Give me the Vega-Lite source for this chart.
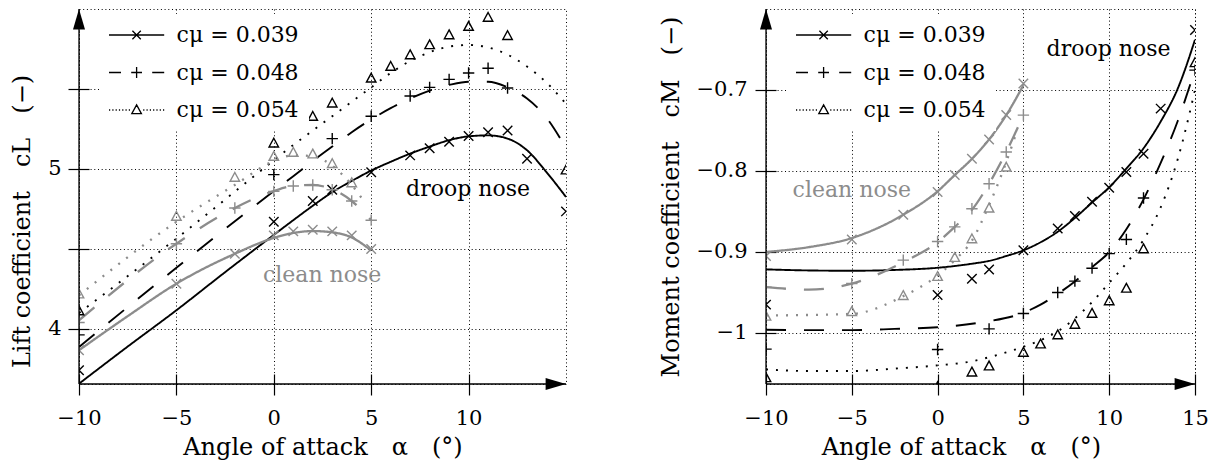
{
  "$schema": "https://vega.github.io/schema/vega-lite/v6.json",
  "padding": {"left": 10, "top": 7, "right": 8, "bottom": 2},
  "spacing": 90,
  "background": "white",
  "config": {
    "font": "DejaVu Serif",
    "view": {"stroke": "black", "strokeDash": [1, 2.7], "strokeWidth": 1},
    "axis": {
      "labelFont": "DejaVu Serif", "labelFontSize": 21, "labelColor": "black",
      "titleFont": "DejaVu Serif", "titleFontSize": 24, "titleFontWeight": "normal", "titleColor": "black",
      "tickColor": "black", "tickWidth": 1.2,
      "gridColor": "black", "gridDash": [1, 2.7], "gridWidth": 1, "gridOpacity": 1,
      "labelFlush": false, "labelOverlap": false, "labelBound": false
    },
    "legend": {
      "orient": "none", "legendX": 20, "legendY": 5, "padding": 10, "fillColor": "white",
      "rowPadding": 15.5, "symbolOffset": 16.6, "labelOffset": 29, "symbolSize": 144,
      "symbolStrokeWidth": 1.3, "symbolStrokeColor": "black", "labelFont": "DejaVu Serif",
      "labelFontSize": 22, "labelColor": "black", "labelLimit": 400
    }
  },
  "datasets": {
    "liftCurves": [
      {"nose": "droop", "cmu": "0.039", "alpha": -10, "cL": 3.658},
      {"nose": "droop", "cmu": "0.039", "alpha": -7.5, "cL": 3.89},
      {"nose": "droop", "cmu": "0.039", "alpha": -5, "cL": 4.117},
      {"nose": "droop", "cmu": "0.039", "alpha": -2.5, "cL": 4.355},
      {"nose": "droop", "cmu": "0.039", "alpha": 0, "cL": 4.588},
      {"nose": "droop", "cmu": "0.039", "alpha": 1, "cL": 4.68},
      {"nose": "droop", "cmu": "0.039", "alpha": 2, "cL": 4.77},
      {"nose": "droop", "cmu": "0.039", "alpha": 3, "cL": 4.855},
      {"nose": "droop", "cmu": "0.039", "alpha": 4, "cL": 4.925},
      {"nose": "droop", "cmu": "0.039", "alpha": 5, "cL": 4.99},
      {"nose": "droop", "cmu": "0.039", "alpha": 6, "cL": 5.045},
      {"nose": "droop", "cmu": "0.039", "alpha": 7, "cL": 5.096},
      {"nose": "droop", "cmu": "0.039", "alpha": 8, "cL": 5.14},
      {"nose": "droop", "cmu": "0.039", "alpha": 9, "cL": 5.18},
      {"nose": "droop", "cmu": "0.039", "alpha": 10, "cL": 5.204},
      {"nose": "droop", "cmu": "0.039", "alpha": 11, "cL": 5.21},
      {"nose": "droop", "cmu": "0.039", "alpha": 12, "cL": 5.19},
      {"nose": "droop", "cmu": "0.039", "alpha": 13, "cL": 5.117},
      {"nose": "droop", "cmu": "0.039", "alpha": 14, "cL": 4.98},
      {"nose": "droop", "cmu": "0.039", "alpha": 15, "cL": 4.825},
      {"nose": "droop", "cmu": "0.048", "alpha": -10, "cL": 3.8875},
      {"nose": "droop", "cmu": "0.048", "alpha": -5, "cL": 4.383},
      {"nose": "droop", "cmu": "0.048", "alpha": 0, "cL": 4.862},
      {"nose": "droop", "cmu": "0.048", "alpha": 1, "cL": 4.955},
      {"nose": "droop", "cmu": "0.048", "alpha": 2, "cL": 5.05},
      {"nose": "droop", "cmu": "0.048", "alpha": 3, "cL": 5.14},
      {"nose": "droop", "cmu": "0.048", "alpha": 4, "cL": 5.23},
      {"nose": "droop", "cmu": "0.048", "alpha": 5, "cL": 5.31},
      {"nose": "droop", "cmu": "0.048", "alpha": 6, "cL": 5.38},
      {"nose": "droop", "cmu": "0.048", "alpha": 7, "cL": 5.44},
      {"nose": "droop", "cmu": "0.048", "alpha": 8, "cL": 5.49},
      {"nose": "droop", "cmu": "0.048", "alpha": 9, "cL": 5.525},
      {"nose": "droop", "cmu": "0.048", "alpha": 10, "cL": 5.545},
      {"nose": "droop", "cmu": "0.048", "alpha": 11, "cL": 5.545},
      {"nose": "droop", "cmu": "0.048", "alpha": 12, "cL": 5.51},
      {"nose": "droop", "cmu": "0.048", "alpha": 13, "cL": 5.44},
      {"nose": "droop", "cmu": "0.048", "alpha": 14, "cL": 5.32},
      {"nose": "droop", "cmu": "0.048", "alpha": 15, "cL": 5.13},
      {"nose": "droop", "cmu": "0.054", "alpha": -10, "cL": 4.10},
      {"nose": "droop", "cmu": "0.054", "alpha": -5, "cL": 4.565},
      {"nose": "droop", "cmu": "0.054", "alpha": 0, "cL": 5.054},
      {"nose": "droop", "cmu": "0.054", "alpha": 1, "cL": 5.15},
      {"nose": "droop", "cmu": "0.054", "alpha": 2, "cL": 5.24},
      {"nose": "droop", "cmu": "0.054", "alpha": 3, "cL": 5.33},
      {"nose": "droop", "cmu": "0.054", "alpha": 4, "cL": 5.42},
      {"nose": "droop", "cmu": "0.054", "alpha": 5, "cL": 5.51},
      {"nose": "droop", "cmu": "0.054", "alpha": 6, "cL": 5.6},
      {"nose": "droop", "cmu": "0.054", "alpha": 7, "cL": 5.675},
      {"nose": "droop", "cmu": "0.054", "alpha": 8, "cL": 5.73},
      {"nose": "droop", "cmu": "0.054", "alpha": 9, "cL": 5.765},
      {"nose": "droop", "cmu": "0.054", "alpha": 10, "cL": 5.775},
      {"nose": "droop", "cmu": "0.054", "alpha": 11, "cL": 5.76},
      {"nose": "droop", "cmu": "0.054", "alpha": 12, "cL": 5.715},
      {"nose": "droop", "cmu": "0.054", "alpha": 13, "cL": 5.64},
      {"nose": "droop", "cmu": "0.054", "alpha": 14, "cL": 5.54},
      {"nose": "droop", "cmu": "0.054", "alpha": 15, "cL": 5.408},
      {"nose": "clean", "cmu": "0.039", "alpha": -10, "cL": 3.867},
      {"nose": "clean", "cmu": "0.039", "alpha": -7.5, "cL": 4.08},
      {"nose": "clean", "cmu": "0.039", "alpha": -5, "cL": 4.283},
      {"nose": "clean", "cmu": "0.039", "alpha": -2, "cL": 4.47},
      {"nose": "clean", "cmu": "0.039", "alpha": 0, "cL": 4.569},
      {"nose": "clean", "cmu": "0.039", "alpha": 1, "cL": 4.60},
      {"nose": "clean", "cmu": "0.039", "alpha": 2, "cL": 4.612},
      {"nose": "clean", "cmu": "0.039", "alpha": 3, "cL": 4.604},
      {"nose": "clean", "cmu": "0.039", "alpha": 4, "cL": 4.572},
      {"nose": "clean", "cmu": "0.039", "alpha": 5, "cL": 4.49},
      {"nose": "clean", "cmu": "0.048", "alpha": -10, "cL": 4.054},
      {"nose": "clean", "cmu": "0.048", "alpha": -5, "cL": 4.533},
      {"nose": "clean", "cmu": "0.048", "alpha": -2, "cL": 4.756},
      {"nose": "clean", "cmu": "0.048", "alpha": 0, "cL": 4.862},
      {"nose": "clean", "cmu": "0.048", "alpha": 1, "cL": 4.894},
      {"nose": "clean", "cmu": "0.048", "alpha": 2, "cL": 4.90},
      {"nose": "clean", "cmu": "0.048", "alpha": 3, "cL": 4.873},
      {"nose": "clean", "cmu": "0.048", "alpha": 4, "cL": 4.80},
      {"nose": "clean", "cmu": "0.048", "alpha": 5, "cL": 4.68},
      {"nose": "clean", "cmu": "0.054", "alpha": -10, "cL": 4.21},
      {"nose": "clean", "cmu": "0.054", "alpha": -5, "cL": 4.67},
      {"nose": "clean", "cmu": "0.054", "alpha": -2, "cL": 4.90},
      {"nose": "clean", "cmu": "0.054", "alpha": 0, "cL": 5.05},
      {"nose": "clean", "cmu": "0.054", "alpha": 1, "cL": 5.085},
      {"nose": "clean", "cmu": "0.054", "alpha": 2, "cL": 5.08},
      {"nose": "clean", "cmu": "0.054", "alpha": 3, "cL": 5.02},
      {"nose": "clean", "cmu": "0.054", "alpha": 4, "cL": 4.90},
      {"nose": "clean", "cmu": "0.054", "alpha": 4.5, "cL": 4.82}
    ],
    "liftPoints": [
      {"nose": "droop", "cmu": "0.039", "alpha": -10, "cL": 3.742},
      {"nose": "droop", "cmu": "0.039", "alpha": 0, "cL": 4.67},
      {"nose": "droop", "cmu": "0.039", "alpha": 2, "cL": 4.80},
      {"nose": "droop", "cmu": "0.039", "alpha": 3, "cL": 4.87},
      {"nose": "droop", "cmu": "0.039", "alpha": 5, "cL": 4.98},
      {"nose": "droop", "cmu": "0.039", "alpha": 7, "cL": 5.085},
      {"nose": "droop", "cmu": "0.039", "alpha": 8, "cL": 5.13},
      {"nose": "droop", "cmu": "0.039", "alpha": 9, "cL": 5.17},
      {"nose": "droop", "cmu": "0.039", "alpha": 10, "cL": 5.206},
      {"nose": "droop", "cmu": "0.039", "alpha": 11, "cL": 5.23},
      {"nose": "droop", "cmu": "0.039", "alpha": 12, "cL": 5.24},
      {"nose": "droop", "cmu": "0.039", "alpha": 13, "cL": 5.064},
      {"nose": "droop", "cmu": "0.039", "alpha": 15, "cL": 4.735},
      {"nose": "droop", "cmu": "0.048", "alpha": -10, "cL": 3.963},
      {"nose": "droop", "cmu": "0.048", "alpha": 0, "cL": 4.965},
      {"nose": "droop", "cmu": "0.048", "alpha": 3, "cL": 5.19},
      {"nose": "droop", "cmu": "0.048", "alpha": 5, "cL": 5.33},
      {"nose": "droop", "cmu": "0.048", "alpha": 7, "cL": 5.456},
      {"nose": "droop", "cmu": "0.048", "alpha": 8, "cL": 5.51},
      {"nose": "droop", "cmu": "0.048", "alpha": 9, "cL": 5.56},
      {"nose": "droop", "cmu": "0.048", "alpha": 10, "cL": 5.60},
      {"nose": "droop", "cmu": "0.048", "alpha": 11, "cL": 5.63},
      {"nose": "droop", "cmu": "0.048", "alpha": 12, "cL": 5.506},
      {"nose": "droop", "cmu": "0.054", "alpha": -10, "cL": 4.11},
      {"nose": "droop", "cmu": "0.054", "alpha": 0, "cL": 5.158},
      {"nose": "droop", "cmu": "0.054", "alpha": 2, "cL": 5.325},
      {"nose": "droop", "cmu": "0.054", "alpha": 3, "cL": 5.408},
      {"nose": "droop", "cmu": "0.054", "alpha": 5, "cL": 5.564},
      {"nose": "droop", "cmu": "0.054", "alpha": 6, "cL": 5.6375},
      {"nose": "droop", "cmu": "0.054", "alpha": 7, "cL": 5.71},
      {"nose": "droop", "cmu": "0.054", "alpha": 8, "cL": 5.773},
      {"nose": "droop", "cmu": "0.054", "alpha": 9, "cL": 5.835},
      {"nose": "droop", "cmu": "0.054", "alpha": 10, "cL": 5.8875},
      {"nose": "droop", "cmu": "0.054", "alpha": 11, "cL": 5.944},
      {"nose": "droop", "cmu": "0.054", "alpha": 12, "cL": 5.83},
      {"nose": "droop", "cmu": "0.054", "alpha": 15, "cL": 4.99},
      {"nose": "clean", "cmu": "0.039", "alpha": -10, "cL": 3.867},
      {"nose": "clean", "cmu": "0.039", "alpha": -5, "cL": 4.283},
      {"nose": "clean", "cmu": "0.039", "alpha": -2, "cL": 4.47},
      {"nose": "clean", "cmu": "0.039", "alpha": 0, "cL": 4.585},
      {"nose": "clean", "cmu": "0.039", "alpha": 1, "cL": 4.61},
      {"nose": "clean", "cmu": "0.039", "alpha": 2, "cL": 4.62},
      {"nose": "clean", "cmu": "0.039", "alpha": 3, "cL": 4.61},
      {"nose": "clean", "cmu": "0.039", "alpha": 4, "cL": 4.585},
      {"nose": "clean", "cmu": "0.039", "alpha": 5, "cL": 4.50},
      {"nose": "clean", "cmu": "0.048", "alpha": -10, "cL": 4.04},
      {"nose": "clean", "cmu": "0.048", "alpha": -5, "cL": 4.533},
      {"nose": "clean", "cmu": "0.048", "alpha": -2, "cL": 4.756},
      {"nose": "clean", "cmu": "0.048", "alpha": 0, "cL": 4.86},
      {"nose": "clean", "cmu": "0.048", "alpha": 1, "cL": 4.894},
      {"nose": "clean", "cmu": "0.048", "alpha": 2, "cL": 4.90},
      {"nose": "clean", "cmu": "0.048", "alpha": 3, "cL": 4.87},
      {"nose": "clean", "cmu": "0.048", "alpha": 4, "cL": 4.80},
      {"nose": "clean", "cmu": "0.048", "alpha": 5, "cL": 4.68},
      {"nose": "clean", "cmu": "0.054", "alpha": -10, "cL": 4.215},
      {"nose": "clean", "cmu": "0.054", "alpha": -5, "cL": 4.70},
      {"nose": "clean", "cmu": "0.054", "alpha": -2, "cL": 4.944},
      {"nose": "clean", "cmu": "0.054", "alpha": 0, "cL": 5.075},
      {"nose": "clean", "cmu": "0.054", "alpha": 1, "cL": 5.10},
      {"nose": "clean", "cmu": "0.054", "alpha": 2, "cL": 5.09},
      {"nose": "clean", "cmu": "0.054", "alpha": 3, "cL": 5.03},
      {"nose": "clean", "cmu": "0.054", "alpha": 4, "cL": 4.91}
    ],
    "liftLabels": [
      {"nose": "droop", "alpha": 9.97, "cL": 4.877, "label": "droop nose"},
      {"nose": "clean", "alpha": 2.48, "cL": 4.336, "label": "clean nose"}
    ],
    "liftFrame": [
      {"alpha": -10, "alpha2": 15, "cL": 3.656, "cL2": 3.656},
      {"alpha": -10, "alpha2": -10, "cL": 3.656, "cL2": 6.0}
    ],
    "liftArrowUp": [{"alpha": -10, "cL": 6.0}],
    "liftArrowRight": [{"alpha": 15, "cL": 3.656}],
    "liftLegend": [
      {"cmu": "0.039", "alpha": 100, "cL": 5},
      {"cmu": "0.048", "alpha": 100, "cL": 5},
      {"cmu": "0.054", "alpha": 100, "cL": 5}
    ],
    "momentCurves": [
      {"nose": "droop", "cmu": "0.039", "alpha": -10, "cM": -0.9215},
      {"nose": "droop", "cmu": "0.039", "alpha": -7.5, "cM": -0.9228},
      {"nose": "droop", "cmu": "0.039", "alpha": -5, "cM": -0.9232},
      {"nose": "droop", "cmu": "0.039", "alpha": -2.5, "cM": -0.9222},
      {"nose": "droop", "cmu": "0.039", "alpha": 0, "cM": -0.9195},
      {"nose": "droop", "cmu": "0.039", "alpha": 2, "cM": -0.9145},
      {"nose": "droop", "cmu": "0.039", "alpha": 3, "cM": -0.911},
      {"nose": "droop", "cmu": "0.039", "alpha": 4, "cM": -0.905},
      {"nose": "droop", "cmu": "0.039", "alpha": 5, "cM": -0.898},
      {"nose": "droop", "cmu": "0.039", "alpha": 6, "cM": -0.888},
      {"nose": "droop", "cmu": "0.039", "alpha": 7, "cM": -0.875},
      {"nose": "droop", "cmu": "0.039", "alpha": 8, "cM": -0.858},
      {"nose": "droop", "cmu": "0.039", "alpha": 9, "cM": -0.839},
      {"nose": "droop", "cmu": "0.039", "alpha": 10, "cM": -0.82},
      {"nose": "droop", "cmu": "0.039", "alpha": 11, "cM": -0.797},
      {"nose": "droop", "cmu": "0.039", "alpha": 12, "cM": -0.772},
      {"nose": "droop", "cmu": "0.039", "alpha": 13, "cM": -0.739},
      {"nose": "droop", "cmu": "0.039", "alpha": 14, "cM": -0.698},
      {"nose": "droop", "cmu": "0.039", "alpha": 15, "cM": -0.638},
      {"nose": "droop", "cmu": "0.048", "alpha": -10, "cM": -0.996},
      {"nose": "droop", "cmu": "0.048", "alpha": -7.5, "cM": -0.9965},
      {"nose": "droop", "cmu": "0.048", "alpha": -5, "cM": -0.9965},
      {"nose": "droop", "cmu": "0.048", "alpha": -2.5, "cM": -0.995},
      {"nose": "droop", "cmu": "0.048", "alpha": 0, "cM": -0.993},
      {"nose": "droop", "cmu": "0.048", "alpha": 2.5, "cM": -0.987},
      {"nose": "droop", "cmu": "0.048", "alpha": 5, "cM": -0.975},
      {"nose": "droop", "cmu": "0.048", "alpha": 6, "cM": -0.965},
      {"nose": "droop", "cmu": "0.048", "alpha": 7, "cM": -0.9517},
      {"nose": "droop", "cmu": "0.048", "alpha": 8, "cM": -0.9364},
      {"nose": "droop", "cmu": "0.048", "alpha": 9, "cM": -0.9187},
      {"nose": "droop", "cmu": "0.048", "alpha": 10, "cM": -0.90},
      {"nose": "droop", "cmu": "0.048", "alpha": 11, "cM": -0.872},
      {"nose": "droop", "cmu": "0.048", "alpha": 12, "cM": -0.835},
      {"nose": "droop", "cmu": "0.048", "alpha": 13, "cM": -0.79},
      {"nose": "droop", "cmu": "0.048", "alpha": 14, "cM": -0.738},
      {"nose": "droop", "cmu": "0.048", "alpha": 15, "cM": -0.675},
      {"nose": "droop", "cmu": "0.054", "alpha": -10, "cM": -1.045},
      {"nose": "droop", "cmu": "0.054", "alpha": -7.5, "cM": -1.047},
      {"nose": "droop", "cmu": "0.054", "alpha": -5, "cM": -1.047},
      {"nose": "droop", "cmu": "0.054", "alpha": -2.5, "cM": -1.044},
      {"nose": "droop", "cmu": "0.054", "alpha": 0, "cM": -1.040},
      {"nose": "droop", "cmu": "0.054", "alpha": 2, "cM": -1.035},
      {"nose": "droop", "cmu": "0.054", "alpha": 3, "cM": -1.03},
      {"nose": "droop", "cmu": "0.054", "alpha": 4, "cM": -1.024},
      {"nose": "droop", "cmu": "0.054", "alpha": 5, "cM": -1.017},
      {"nose": "droop", "cmu": "0.054", "alpha": 6, "cM": -1.009},
      {"nose": "droop", "cmu": "0.054", "alpha": 7, "cM": -0.998},
      {"nose": "droop", "cmu": "0.054", "alpha": 8, "cM": -0.982},
      {"nose": "droop", "cmu": "0.054", "alpha": 9, "cM": -0.962},
      {"nose": "droop", "cmu": "0.054", "alpha": 10, "cM": -0.938},
      {"nose": "droop", "cmu": "0.054", "alpha": 11, "cM": -0.914},
      {"nose": "droop", "cmu": "0.054", "alpha": 12, "cM": -0.885},
      {"nose": "droop", "cmu": "0.054", "alpha": 13, "cM": -0.845},
      {"nose": "droop", "cmu": "0.054", "alpha": 14, "cM": -0.785},
      {"nose": "droop", "cmu": "0.054", "alpha": 15, "cM": -0.70},
      {"nose": "clean", "cmu": "0.039", "alpha": -10, "cM": -0.90},
      {"nose": "clean", "cmu": "0.039", "alpha": -7.5, "cM": -0.894},
      {"nose": "clean", "cmu": "0.039", "alpha": -5, "cM": -0.8828},
      {"nose": "clean", "cmu": "0.039", "alpha": -2, "cM": -0.854},
      {"nose": "clean", "cmu": "0.039", "alpha": 0, "cM": -0.825},
      {"nose": "clean", "cmu": "0.039", "alpha": 1, "cM": -0.805},
      {"nose": "clean", "cmu": "0.039", "alpha": 2, "cM": -0.785},
      {"nose": "clean", "cmu": "0.039", "alpha": 3, "cM": -0.761},
      {"nose": "clean", "cmu": "0.039", "alpha": 4, "cM": -0.731},
      {"nose": "clean", "cmu": "0.039", "alpha": 5, "cM": -0.694},
      {"nose": "clean", "cmu": "0.048", "alpha": -10, "cM": -0.9434},
      {"nose": "clean", "cmu": "0.048", "alpha": -7.5, "cM": -0.9465},
      {"nose": "clean", "cmu": "0.048", "alpha": -5, "cM": -0.939},
      {"nose": "clean", "cmu": "0.048", "alpha": -2, "cM": -0.9125},
      {"nose": "clean", "cmu": "0.048", "alpha": 0, "cM": -0.8878},
      {"nose": "clean", "cmu": "0.048", "alpha": 1, "cM": -0.869},
      {"nose": "clean", "cmu": "0.048", "alpha": 2, "cM": -0.848},
      {"nose": "clean", "cmu": "0.048", "alpha": 3, "cM": -0.8157},
      {"nose": "clean", "cmu": "0.048", "alpha": 4, "cM": -0.7765},
      {"nose": "clean", "cmu": "0.048", "alpha": 5, "cM": -0.731},
      {"nose": "clean", "cmu": "0.054", "alpha": -10, "cM": -0.9784},
      {"nose": "clean", "cmu": "0.054", "alpha": -5, "cM": -0.9764},
      {"nose": "clean", "cmu": "0.054", "alpha": -2, "cM": -0.9545},
      {"nose": "clean", "cmu": "0.054", "alpha": 0, "cM": -0.929},
      {"nose": "clean", "cmu": "0.054", "alpha": 1, "cM": -0.910},
      {"nose": "clean", "cmu": "0.054", "alpha": 2, "cM": -0.886},
      {"nose": "clean", "cmu": "0.054", "alpha": 3, "cM": -0.842},
      {"nose": "clean", "cmu": "0.054", "alpha": 4, "cM": -0.789},
      {"nose": "clean", "cmu": "0.054", "alpha": 4.6, "cM": -0.752}
    ],
    "momentPoints": [
      {"nose": "droop", "cmu": "0.039", "alpha": -10, "cM": -0.965},
      {"nose": "droop", "cmu": "0.039", "alpha": 0, "cM": -0.953},
      {"nose": "droop", "cmu": "0.039", "alpha": 2, "cM": -0.933},
      {"nose": "droop", "cmu": "0.039", "alpha": 3, "cM": -0.9215},
      {"nose": "droop", "cmu": "0.039", "alpha": 5, "cM": -0.898},
      {"nose": "droop", "cmu": "0.039", "alpha": 7, "cM": -0.871},
      {"nose": "droop", "cmu": "0.039", "alpha": 8, "cM": -0.8556},
      {"nose": "droop", "cmu": "0.039", "alpha": 9, "cM": -0.838},
      {"nose": "droop", "cmu": "0.039", "alpha": 10, "cM": -0.8206},
      {"nose": "droop", "cmu": "0.039", "alpha": 11, "cM": -0.8012},
      {"nose": "droop", "cmu": "0.039", "alpha": 12, "cM": -0.7786},
      {"nose": "droop", "cmu": "0.039", "alpha": 13, "cM": -0.723},
      {"nose": "droop", "cmu": "0.039", "alpha": 15, "cM": -0.626},
      {"nose": "droop", "cmu": "0.048", "alpha": -10, "cM": -1.02},
      {"nose": "droop", "cmu": "0.048", "alpha": 0, "cM": -1.0204},
      {"nose": "droop", "cmu": "0.048", "alpha": 3, "cM": -0.995},
      {"nose": "droop", "cmu": "0.048", "alpha": 5, "cM": -0.976},
      {"nose": "droop", "cmu": "0.048", "alpha": 7, "cM": -0.950},
      {"nose": "droop", "cmu": "0.048", "alpha": 8, "cM": -0.936},
      {"nose": "droop", "cmu": "0.048", "alpha": 9, "cM": -0.920},
      {"nose": "droop", "cmu": "0.048", "alpha": 10, "cM": -0.902},
      {"nose": "droop", "cmu": "0.048", "alpha": 11, "cM": -0.8845},
      {"nose": "droop", "cmu": "0.048", "alpha": 12, "cM": -0.8334},
      {"nose": "droop", "cmu": "0.048", "alpha": 15, "cM": -0.6755},
      {"nose": "droop", "cmu": "0.054", "alpha": -10, "cM": -1.056},
      {"nose": "droop", "cmu": "0.054", "alpha": 0, "cM": -1.067},
      {"nose": "droop", "cmu": "0.054", "alpha": 2, "cM": -1.049},
      {"nose": "droop", "cmu": "0.054", "alpha": 3, "cM": -1.0414},
      {"nose": "droop", "cmu": "0.054", "alpha": 5, "cM": -1.0246},
      {"nose": "droop", "cmu": "0.054", "alpha": 6, "cM": -1.0143},
      {"nose": "droop", "cmu": "0.054", "alpha": 7, "cM": -1.003},
      {"nose": "droop", "cmu": "0.054", "alpha": 8, "cM": -0.99},
      {"nose": "droop", "cmu": "0.054", "alpha": 9, "cM": -0.9764},
      {"nose": "droop", "cmu": "0.054", "alpha": 10, "cM": -0.961},
      {"nose": "droop", "cmu": "0.054", "alpha": 11, "cM": -0.9455},
      {"nose": "droop", "cmu": "0.054", "alpha": 12, "cM": -0.8968},
      {"nose": "droop", "cmu": "0.054", "alpha": 15, "cM": -0.667},
      {"nose": "clean", "cmu": "0.039", "alpha": -10, "cM": -0.905},
      {"nose": "clean", "cmu": "0.039", "alpha": -5, "cM": -0.8845},
      {"nose": "clean", "cmu": "0.039", "alpha": -2, "cM": -0.854},
      {"nose": "clean", "cmu": "0.039", "alpha": 0, "cM": -0.826},
      {"nose": "clean", "cmu": "0.039", "alpha": 1, "cM": -0.805},
      {"nose": "clean", "cmu": "0.039", "alpha": 2, "cM": -0.785},
      {"nose": "clean", "cmu": "0.039", "alpha": 3, "cM": -0.761},
      {"nose": "clean", "cmu": "0.039", "alpha": 4, "cM": -0.731},
      {"nose": "clean", "cmu": "0.039", "alpha": 5, "cM": -0.692},
      {"nose": "clean", "cmu": "0.048", "alpha": -10, "cM": -0.9434},
      {"nose": "clean", "cmu": "0.048", "alpha": -5, "cM": -0.939},
      {"nose": "clean", "cmu": "0.048", "alpha": -2, "cM": -0.910},
      {"nose": "clean", "cmu": "0.048", "alpha": 0, "cM": -0.887},
      {"nose": "clean", "cmu": "0.048", "alpha": 1, "cM": -0.869},
      {"nose": "clean", "cmu": "0.048", "alpha": 2, "cM": -0.8466},
      {"nose": "clean", "cmu": "0.048", "alpha": 3, "cM": -0.8157},
      {"nose": "clean", "cmu": "0.048", "alpha": 4, "cM": -0.7765},
      {"nose": "clean", "cmu": "0.048", "alpha": 5, "cM": -0.731},
      {"nose": "clean", "cmu": "0.054", "alpha": -10, "cM": -0.98},
      {"nose": "clean", "cmu": "0.054", "alpha": -5, "cM": -0.9743},
      {"nose": "clean", "cmu": "0.054", "alpha": -2, "cM": -0.9545},
      {"nose": "clean", "cmu": "0.054", "alpha": 0, "cM": -0.931},
      {"nose": "clean", "cmu": "0.054", "alpha": 1, "cM": -0.9075},
      {"nose": "clean", "cmu": "0.054", "alpha": 2, "cM": -0.8845},
      {"nose": "clean", "cmu": "0.054", "alpha": 3, "cM": -0.8466},
      {"nose": "clean", "cmu": "0.054", "alpha": 4, "cM": -0.796}
    ],
    "momentLabels": [
      {"nose": "droop", "alpha": 9.96, "cM": -0.649, "label": "droop nose"},
      {"nose": "clean", "alpha": -5.0, "cM": -0.8235, "label": "clean nose"}
    ],
    "momentFrame": [
      {"alpha": -10, "alpha2": 15, "cM": -1.063, "cM2": -1.063},
      {"alpha": -10, "alpha2": -10, "cM": -1.063, "cM2": -0.6}
    ],
    "momentArrowUp": [{"alpha": -10, "cM": -0.6}],
    "momentArrowRight": [{"alpha": 15, "cM": -1.063}],
    "momentLegend": [
      {"cmu": "0.039", "alpha": 100, "cM": -0.8},
      {"cmu": "0.048", "alpha": 100, "cM": -0.8},
      {"cmu": "0.054", "alpha": 100, "cM": -0.8}
    ]
  },
  "resolve": {"scale": {"x": "independent", "y": "independent", "color": "independent", "shape": "independent", "strokeDash": "independent", "strokeWidth": "independent"}},
  "hconcat": [
    {
      "width": 487,
      "height": 375,
      "resolve": {"scale": {"shape": "independent"}},
      "layer": [
        {
          "data": {"name": "liftCurves"},
          "mark": {"type": "line", "interpolate": "monotone", "clip": true, "strokeCap": "butt"},
          "encoding": {
            "x": {"field": "alpha", "type": "quantitative",
              "scale": {"domain": [-10, 15], "nice": false, "zero": false},
              "axis": {"values": [-10, -5, 0, 5, 10], "format": "~g", "offset": -10, "tickSize": 21, "domain": false, "grid": true,
                "labelPadding": 12, "title": "Angle of attack\u2003\u03b1\u2003(\u00b0)", "titlePadding": 7}},
            "y": {"field": "cL", "type": "quantitative",
              "scale": {"domain": [3.656, 6.0], "nice": false, "zero": false},
              "axis": {"values": [4, 4.5, 5, 5.5], "format": "~g", "labelExpr": "datum.value % 1 === 0 ? datum.label : ''",
                "offset": -10, "tickSize": 21, "domain": false, "grid": true, "labelPadding": 7,
                "title": "Lift coefficient\u2003cL\u2003(\u2212)", "titlePadding": 13, "titleY": 212}},
            "color": {"field": "nose", "type": "nominal", "scale": {"domain": ["droop", "clean"], "range": ["black", "#8c8c8c"]}, "legend": null},
            "strokeDash": {"field": "cmu", "type": "nominal", "scale": {"domain": ["0.039", "0.048", "0.054"], "range": [[1, 0], [20, 18], [2, 8]]}, "legend": null},
            "strokeWidth": {"field": "nose", "type": "nominal", "scale": {"domain": ["droop", "clean"], "range": [1.9, 2.3]}, "legend": null}
          }
        },
        {
          "data": {"name": "liftPoints"},
          "mark": {"type": "point", "filled": false, "clip": true, "size": 90, "strokeWidth": 1.4, "opacity": 1},
          "encoding": {
            "x": {"field": "alpha", "type": "quantitative"},
            "y": {"field": "cL", "type": "quantitative"},
            "color": {"field": "nose", "type": "nominal", "legend": null},
            "shape": {"field": "cmu", "type": "nominal", "scale": {"domain": ["0.039", "0.048", "0.054"],
              "range": ["M-1,-1L1,1M-1,1L1,-1", "M-1.2,0L1.2,0M0,-1.2L0,1.2", "M0,-1.15L1,0.7L-1,0.7Z"]}, "legend": null}
          }
        },
        {
          "data": {"name": "liftFrame"},
          "mark": {"type": "rule", "color": "black", "strokeWidth": 1.3},
          "encoding": {
            "x": {"field": "alpha", "type": "quantitative"},
            "x2": {"field": "alpha2"},
            "y": {"field": "cL", "type": "quantitative"},
            "y2": {"field": "cL2"}
          }
        },
        {
          "data": {"name": "liftArrowUp"},
          "mark": {"type": "point", "shape": "M0,0L-0.5,1.7L0.5,1.7Z", "size": 576, "filled": true, "color": "black", "opacity": 1, "strokeWidth": 0},
          "encoding": {
            "x": {"field": "alpha", "type": "quantitative"},
            "y": {"field": "cL", "type": "quantitative"}
          }
        },
        {
          "data": {"name": "liftArrowRight"},
          "mark": {"type": "point", "shape": "M0,0L-1.7,-0.5L-1.7,0.5Z", "size": 576, "filled": true, "color": "black", "opacity": 1, "strokeWidth": 0},
          "encoding": {
            "x": {"field": "alpha", "type": "quantitative"},
            "y": {"field": "cL", "type": "quantitative"}
          }
        },
        {
          "data": {"name": "liftLabels"},
          "mark": {"type": "text", "font": "DejaVu Serif", "fontSize": 22, "align": "center", "baseline": "middle"},
          "encoding": {
            "x": {"field": "alpha", "type": "quantitative"},
            "y": {"field": "cL", "type": "quantitative"},
            "text": {"field": "label"},
            "color": {"field": "nose", "type": "nominal", "legend": null}
          }
        },
        {
          "data": {"name": "liftLegend"},
          "mark": {"type": "point", "filled": false, "clip": true, "size": 144, "color": "black", "strokeWidth": 1.3, "opacity": 1},
          "encoding": {
            "x": {"field": "alpha", "type": "quantitative"},
            "y": {"field": "cL", "type": "quantitative"},
            "shape": {"field": "cmu", "type": "nominal",
              "scale": {"domain": ["0.039", "0.048", "0.054"], "range": [
                "M-4.6,0L4.6,0M-0.7,-0.7L0.7,0.7M-0.7,0.7L0.7,-0.7",
                "M-4.6,0L-2.6,0M2.6,0L4.6,0M-0.9,0L0.9,0M0,-0.9L0,0.9",
                "M-4.6,0L-4.4,0M-4.05,0L-3.85,0M-3.5,0L-3.3,0M-2.95,0L-2.75,0M-2.4,0L-2.2,0M-1.85,0L-1.65,0M-1.3,0L-1.1,0M1.1,0L1.3,0M1.65,0L1.85,0M2.2,0L2.4,0M2.75,0L2.95,0M3.3,0L3.5,0M3.85,0L4.05,0M4.4,0L4.6,0M0,-0.85L0.8,0.6L-0.8,0.6Z"]},
              "legend": {"title": null, "labelExpr": "'c\u03bc = ' + datum.label"}}
          }
        }
      ]
    },
    {
      "width": 429,
      "height": 375,
      "resolve": {"scale": {"shape": "independent"}},
      "layer": [
        {
          "data": {"name": "momentCurves"},
          "mark": {"type": "line", "interpolate": "monotone", "clip": true, "strokeCap": "butt"},
          "encoding": {
            "x": {"field": "alpha", "type": "quantitative",
              "scale": {"domain": [-10, 15], "nice": false, "zero": false},
              "axis": {"values": [-10, -5, 0, 5, 10, 15], "format": "~g", "offset": -10, "tickSize": 21, "domain": false, "grid": true,
                "labelPadding": 12, "title": "Angle of attack\u2003\u03b1\u2003(\u00b0)", "titlePadding": 7, "titleX": 195}},
            "y": {"field": "cM", "type": "quantitative",
              "scale": {"domain": [-1.063, -0.6], "nice": false, "zero": false},
              "axis": {"values": [-1, -0.9, -0.8, -0.7], "format": "~g",
                "offset": -10, "tickSize": 21, "domain": false, "grid": true, "labelPadding": 8,
                "title": "Moment coefficient\u2003cM\u2003(\u2212)", "titlePadding": 13}},
            "color": {"field": "nose", "type": "nominal", "scale": {"domain": ["droop", "clean"], "range": ["black", "#8c8c8c"]}, "legend": null},
            "strokeDash": {"field": "cmu", "type": "nominal", "scale": {"domain": ["0.039", "0.048", "0.054"], "range": [[1, 0], [20, 18], [2, 8]]}, "legend": null},
            "strokeWidth": {"field": "nose", "type": "nominal", "scale": {"domain": ["droop", "clean"], "range": [1.9, 2.3]}, "legend": null}
          }
        },
        {
          "data": {"name": "momentPoints"},
          "mark": {"type": "point", "filled": false, "clip": true, "size": 90, "strokeWidth": 1.4, "opacity": 1},
          "encoding": {
            "x": {"field": "alpha", "type": "quantitative"},
            "y": {"field": "cM", "type": "quantitative"},
            "color": {"field": "nose", "type": "nominal", "legend": null},
            "shape": {"field": "cmu", "type": "nominal", "scale": {"domain": ["0.039", "0.048", "0.054"],
              "range": ["M-1,-1L1,1M-1,1L1,-1", "M-1.2,0L1.2,0M0,-1.2L0,1.2", "M0,-1.15L1,0.7L-1,0.7Z"]}, "legend": null}
          }
        },
        {
          "data": {"name": "momentFrame"},
          "mark": {"type": "rule", "color": "black", "strokeWidth": 1.3},
          "encoding": {
            "x": {"field": "alpha", "type": "quantitative"},
            "x2": {"field": "alpha2"},
            "y": {"field": "cM", "type": "quantitative"},
            "y2": {"field": "cM2"}
          }
        },
        {
          "data": {"name": "momentArrowUp"},
          "mark": {"type": "point", "shape": "M0,0L-0.5,1.7L0.5,1.7Z", "size": 576, "filled": true, "color": "black", "opacity": 1, "strokeWidth": 0},
          "encoding": {
            "x": {"field": "alpha", "type": "quantitative"},
            "y": {"field": "cM", "type": "quantitative"}
          }
        },
        {
          "data": {"name": "momentArrowRight"},
          "mark": {"type": "point", "shape": "M0,0L-1.7,-0.5L-1.7,0.5Z", "size": 576, "filled": true, "color": "black", "opacity": 1, "strokeWidth": 0},
          "encoding": {
            "x": {"field": "alpha", "type": "quantitative"},
            "y": {"field": "cM", "type": "quantitative"}
          }
        },
        {
          "data": {"name": "momentLabels"},
          "mark": {"type": "text", "font": "DejaVu Serif", "fontSize": 22, "align": "center", "baseline": "middle"},
          "encoding": {
            "x": {"field": "alpha", "type": "quantitative"},
            "y": {"field": "cM", "type": "quantitative"},
            "text": {"field": "label"},
            "color": {"field": "nose", "type": "nominal", "legend": null}
          }
        },
        {
          "data": {"name": "momentLegend"},
          "mark": {"type": "point", "filled": false, "clip": true, "size": 144, "color": "black", "strokeWidth": 1.3, "opacity": 1},
          "encoding": {
            "x": {"field": "alpha", "type": "quantitative"},
            "y": {"field": "cM", "type": "quantitative"},
            "shape": {"field": "cmu", "type": "nominal",
              "scale": {"domain": ["0.039", "0.048", "0.054"], "range": [
                "M-4.6,0L4.6,0M-0.7,-0.7L0.7,0.7M-0.7,0.7L0.7,-0.7",
                "M-4.6,0L-2.6,0M2.6,0L4.6,0M-0.9,0L0.9,0M0,-0.9L0,0.9",
                "M-4.6,0L-4.4,0M-4.05,0L-3.85,0M-3.5,0L-3.3,0M-2.95,0L-2.75,0M-2.4,0L-2.2,0M-1.85,0L-1.65,0M-1.3,0L-1.1,0M1.1,0L1.3,0M1.65,0L1.85,0M2.2,0L2.4,0M2.75,0L2.95,0M3.3,0L3.5,0M3.85,0L4.05,0M4.4,0L4.6,0M0,-0.85L0.8,0.6L-0.8,0.6Z"]},
              "legend": {"title": null, "labelExpr": "'c\u03bc = ' + datum.label"}}
          }
        }
      ]
    }
  ]
}
